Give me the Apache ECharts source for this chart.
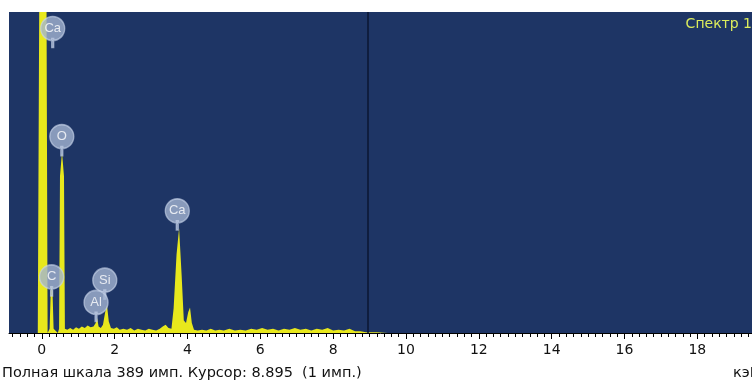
<!DOCTYPE html>
<html>
<head>
<meta charset="utf-8">
<script src="https://cdn.jsdelivr.net/npm/echarts@6/dist/echarts.min.js"></script>
<style>
  html, body { margin: 0; padding: 0; background: #fff; }
  #chart { width: 752px; height: 382px; }
</style>
</head>
<body>
<div id="chart"></div>
<script>
// EDS spectrum, energy in keV, counts in imp.
const energy = [-0.9, -0.11, -0.05, 0.115, 0.16, 0.2, 0.215, 0.245, 0.27, 0.295, 0.325, 0.44, 0.475, 0.5, 0.555, 0.61, 0.635, 0.66,
  0.7, 0.78, 0.86, 0.94, 1.02, 1.1, 1.18, 1.26, 1.34, 1.42, 1.48, 1.52, 1.56, 1.62, 1.68, 1.74, 1.79, 1.84,
  1.9, 1.98, 2.06, 2.14, 2.24, 2.34, 2.44, 2.54, 2.64, 2.74, 2.84, 2.94, 3.04, 3.14, 3.24, 3.32, 3.4, 3.48,
  3.56, 3.62, 3.7, 3.77, 3.84, 3.9, 3.96, 4.02, 4.07, 4.12, 4.18, 4.28, 4.4, 4.52, 4.64, 4.76, 4.88, 5.0,
  5.15, 5.3, 5.45, 5.6, 5.75, 5.9, 6.05, 6.2, 6.35, 6.5, 6.65, 6.8, 6.95, 7.1, 7.25, 7.4, 7.55, 7.7, 7.85,
  8.0, 8.15, 8.3, 8.45, 8.6, 8.75, 8.9, 9.2, 9.5, 19.5];
const counts = [0, 0, 600, 600, 0, 0, 5, 50, 58, 50, 5, 0, 5, 190, 219, 190, 5, 4,
  4, 6, 4, 7, 5, 8, 6, 9, 7, 8, 12, 18, 8, 6, 10, 25, 34, 14,
  6, 5, 7, 4, 5, 4, 6, 3, 5, 4, 3, 5, 4, 3, 5, 8, 10, 6,
  5, 30, 95, 127, 70, 15, 12, 25, 31, 12, 4, 3, 4, 3, 5, 3, 4, 3,
  5, 3, 4, 3, 5, 4, 6, 4, 5, 3, 5, 4, 6, 4, 5, 3, 5, 4, 6,
  3, 4, 3, 5, 2, 2, 1, 1, 0, 0];

// element badges
const peakNames = ['Ca', 'O', 'C', 'Si', 'Al', 'Ca'];
const peakX = [0.30, 0.55, 0.27, 1.73, 1.49, 3.72];
const peakY = [369, 238, 68, 64, 37, 148];

const majorTicks = [0, 2, 4, 6, 8, 10, 12, 14, 16, 18];
const cursorKeV = 8.94;
const fullScale = 389;

const minorTicks = [];
for (let i = -4; i <= 97; i++) minorTicks.push(+(i * 0.2).toFixed(1));

const FONT = "'DejaVu Sans', Verdana, sans-serif";

const chart = echarts.init(document.getElementById('chart'));

const badgePath = 'path://M12,0A12,12 0 1,1 11.99,0Z M11,22 L13,22 L13,31 L11,31Z';

chart.setOption({
  animation: false,
  backgroundColor: '#ffffff',
  grid: {
    left: 9, right: 0, top: 12, bottom: 49,
    show: true, backgroundColor: '#1e3565', borderWidth: 0
  },
  xAxis: [
    {
      type: 'value', min: -0.9, max: 19.5,
      axisLine: { show: true, onZero: false, lineStyle: { color: '#000', width: 1 } },
      axisTick: { show: true, customValues: minorTicks, length: 4, lineStyle: { color: '#000' } },
      axisLabel: {
        customValues: majorTicks, color: '#111', fontSize: 14, fontFamily: FONT, margin: 10
      },
      splitLine: { show: false }
    },
    {
      type: 'value', min: -0.9, max: 19.5, position: 'bottom',
      axisLine: { show: false },
      axisTick: { show: true, customValues: majorTicks, length: 6, lineStyle: { color: '#000' } },
      axisLabel: { show: false },
      splitLine: { show: false }
    }
  ],
  yAxis: {
    type: 'value', min: 0, max: fullScale,
    show: false, splitLine: { show: false }
  },
  graphic: [
    {
      type: 'text', right: 0, top: 17,
      style: { text: 'Спектр 1', fill: '#dcec5c', font: '14px ' + FONT }
    },
    {
      type: 'text', left: 2, top: 366,
      style: { text: 'Полная шкала 389 имп. Курсор: 8.895  (1 имп.)', fill: '#111', font: '14.5px ' + FONT }
    },
    {
      type: 'text', left: 733, top: 366,
      style: { text: 'кэВ', fill: '#111', font: '14.5px ' + FONT }
    }
  ],
  series: [
    {
      type: 'line',
      data: energy.map((e, i) => [e, counts[i]]),
      symbol: 'none',
      lineStyle: { width: 0 },
      areaStyle: { color: '#e8e81c', opacity: 1 },
      clip: true,
      markLine: {
        silent: true,
        symbol: 'none',
        label: { show: false },
        lineStyle: { color: '#0b1632', width: 1.5, type: 'solid' },
        data: [{ xAxis: cursorKeV }]
      }
    },
    {
      type: 'scatter',
      data: peakNames.map((n, i) => ({ name: n, value: [peakX[i], peakY[i]] })),
      symbol: badgePath,
      symbolSize: [24, 31],
      symbolOffset: [0, 3.5],
      itemStyle: { color: '#a3b4d1', borderColor: 'rgba(200,212,235,0.8)', borderWidth: 1.5 },
      label: {
        show: true, position: 'inside', offset: [0, -3.5],
        formatter: (p) => p.name,
        color: '#ffffff', fontSize: 13, fontFamily: "'Liberation Sans', Arial, sans-serif"
      },
      z: 5
    }
  ]
});
</script>
</body>
</html>
